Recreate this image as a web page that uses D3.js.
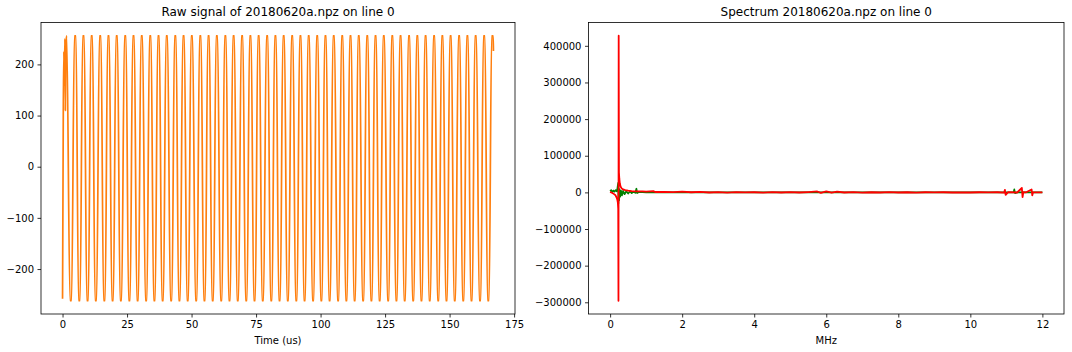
<!DOCTYPE html>
<html>
<head>
<meta charset="utf-8">
<script src="https://cdn.jsdelivr.net/npm/d3@7"></script>
<style>
  body { margin: 0; background: #fff; }
  text { font-family: "DejaVu Sans", sans-serif; fill: #000; }
</style>
</head>
<body>
<script>
// Size of the whole picture
const w = 1072;
const h = 352;

// Raw signal: troughs and peaks of the oscillation (time in us)
const troughTimes = [0, 3.2, 6.5, 9.7, 12.9, 16.2, 19.4, 22.6, 25.9, 29.1, 32.4, 35.6, 38.8, 42.1, 45.3, 48.5,
  51.8, 55.0, 58.2, 61.5, 64.7, 67.9, 71.2, 74.4, 77.6, 80.9, 84.1, 87.3, 90.6, 93.8, 97.1, 100.3,
  103.5, 106.8, 110.0, 113.2, 116.5, 119.7, 122.9, 126.2, 129.4, 132.6, 135.9, 139.1, 142.3, 145.6,
  148.8, 152.0, 155.3, 158.5, 161.8, 165.0];
const troughValue = -262;
const peakTimes = [4.9, 8.1, 11.3, 14.6, 17.8, 21.0, 24.3, 27.5, 30.7, 34.0, 37.2, 40.4, 43.7, 46.9, 50.1,
  53.4, 56.6, 59.8, 63.1, 66.3, 69.6, 72.8, 76.0, 79.3, 82.5, 85.7, 89.0, 92.2, 95.4, 98.7, 101.9,
  105.1, 108.4, 111.6, 114.8, 118.1, 121.3, 124.5, 127.8, 131.0, 134.3, 137.5, 140.7, 144.0, 147.2,
  150.4, 153.7, 156.9, 160.1, 163.4, 166.6];
const peakValue = 256;
// the signal is clipped: tops and bottoms stay flat for about this long (us)
const clipWidth = 0.6;
// the messy first rise and the last sample
const startTimes = [0.3, 0.5, 0.7, 0.9, 1.1, 1.3, 1.6];
const startValues = [120, 225, 160, 250, 110, 240, 256];
const endTimes = [167.0];
const endValues = [226];

// Spectrum: red trace
const redFreq = [0, 0.05, 0.1, 0.15, 0.18, 0.2, 0.215, 0.225, 0.232, 0.238, 0.245, 0.255, 0.27, 0.29, 0.32,
  0.36, 0.42, 0.5, 0.6, 0.75, 0.9, 1.0, 1.2, 1.25, 1.5, 1.75, 2.0, 2.25, 2.5, 2.75, 3.0, 3.25, 3.5,
  3.75, 4.0, 4.25, 4.5, 4.75, 5.0, 5.25, 5.5, 5.75, 5.85, 6.0, 6.15, 6.3, 6.5, 6.75, 7.0, 7.25, 7.5,
  7.75, 8.0, 8.25, 8.5, 8.75, 9.0, 9.25, 9.5, 9.75, 10.0, 10.25, 10.5, 10.75, 10.94, 10.96, 10.98,
  11.05, 11.3, 11.43, 11.45, 11.47, 11.55, 11.7, 11.72, 11.74, 11.8, 12.0];
const redValues = [1500, -1000, -4000, -8000, -14000, -20000, -28000, -45000, -295800, 427500, 55000, 38000,
  24000, 16000, 11000, 8000, 6000, 4500, 3500, 2500, 3000, 2000, 3500, 1000, 1500, 500, 1800, 300,
  1200, -300, 800, -500, 600, -200, 400, -600, 500, -300, 600, -400, 900, 2500, -1500, 3000, -1000,
  2000, -300, 800, -500, 300, -400, 500, -300, 400, -500, 300, -200, 400, -300, 200, -400, 300, -200,
  300, -500, 7000, -7000, 500, -300, 12000, -13000, 300, 200, 8000, -8000, 200, 100, 0];

// Spectrum: green trace
const greenFreq = [0, 0.03, 0.06, 0.09, 0.12, 0.15, 0.18, 0.2, 0.215, 0.225, 0.23, 0.24, 0.25, 0.26, 0.28,
  0.3, 0.33, 0.36, 0.4, 0.45, 0.5, 0.55, 0.6, 0.65, 0.7, 0.73, 0.75, 0.8, 1.0, 11.2, 11.22, 11.24, 11.3, 12.0];
const greenValues = [3000, 6000, 1000, 5000, 2000, 6000, 3000, 9000, 20000, 26000, -30000, 12000, -22000,
  8000, -12000, 5000, -8000, 4000, -5000, 3000, -3000, 2500, -2000, 1500, -1000, 10000, -2000, 1000,
  0, 0, 8000, -2000, 0, 0];

// Tick values
const rawXTicks = [0, 25, 50, 75, 100, 125, 150, 175];
const rawYTicks = [-200, -100, 0, 100, 200];
const specXTicks = [0, 2, 4, 6, 8, 10, 12];
const specYTicks = [-300000, -200000, -100000, 0, 100000, 200000, 300000, 400000];

// Build the raw signal point list (sorted by time). Each clipped top / bottom
// is a short flat piece around the read time.
const half = clipWidth / 2;
const rawPoints = [{ t: 0, v: -258 }]
  .concat(troughTimes.slice(1).flatMap(t => [{ t: t - half, v: troughValue }, { t: t + half, v: troughValue }]))
  .concat(peakTimes.flatMap(t => [{ t: t - half, v: peakValue }, { t: t + half, v: peakValue }]))
  .concat(startTimes.map((t, i) => ({ t: t, v: startValues[i] })))
  .concat(endTimes.map((t, i) => ({ t: t, v: endValues[i] })))
  .filter(d => d.t <= endTimes[0])
  .sort((a, b) => a.t - b.t);

const redPoints = redFreq.map((f, i) => ({ t: f, v: redValues[i] }));
const greenPoints = greenFreq.map((f, i) => ({ t: f, v: greenValues[i] }));

const svg = d3.select("body").append("svg")
  .attr("width", w)
  .attr("height", h);

// matplotlib-like 5% margin around the data
function padded(ext) {
  const m = (ext[1] - ext[0]) * 0.05;
  return [ext[0] - m, ext[1] + m];
}
const minus = d => d < 0 ? "\u2212" + Math.abs(d) : String(d);

function drawPanel(box, opts) {
  const g = svg.append("g");
  const x = d3.scaleLinear().domain(padded(opts.xExt)).range([box.left, box.right]);
  const y = d3.scaleLinear().domain(padded(opts.yExt)).range([box.bottom, box.top]);

  // x axis
  const xa = g.append("g")
    .attr("transform", `translate(0, ${box.bottom})`)
    .call(d3.axisBottom(x).tickValues(opts.xTicks).tickFormat(minus).tickSize(3.5).tickPadding(3.5));
  // y axis
  const ya = g.append("g")
    .attr("transform", `translate(${box.left}, 0)`)
    .call(d3.axisLeft(y).tickValues(opts.yTicks).tickFormat(minus).tickSize(3.5).tickPadding(3.5));
  [xa, ya].forEach(a => {
    a.select(".domain").remove();
    a.selectAll("line").attr("stroke", "#000").attr("stroke-width", 0.8);
    a.selectAll("text").style("font-size", "10px").style("font-family", "DejaVu Sans").attr("fill", "#000");
  });

  // lines
  const line = d3.line().x(d => x(d.t)).y(d => y(d.v));
  opts.series.forEach(s => {
    g.append("path")
      .datum(s.data)
      .attr("fill", "none")
      .attr("stroke", s.color)
      .attr("stroke-width", s.width || 1.5)
      .attr("stroke-linejoin", "round")
      .attr("d", line.curve(s.curve || d3.curveLinear));
  });

  // frame
  g.append("rect")
    .attr("x", box.left).attr("y", box.top)
    .attr("width", box.right - box.left).attr("height", box.bottom - box.top)
    .attr("fill", "none").attr("stroke", "#000").attr("stroke-width", 0.8);

  // title and x label
  g.append("text")
    .attr("x", (box.left + box.right) / 2).attr("y", box.top - 6.5)
    .attr("text-anchor", "middle").style("font-size", "12px")
    .text(opts.title);
  g.append("text")
    .attr("x", (box.left + box.right) / 2).attr("y", box.bottom + 30)
    .attr("text-anchor", "middle").style("font-size", "10px")
    .text(opts.xLabel);
}

drawPanel({ left: 41, right: 515, top: 22.5, bottom: 314 }, {
  xExt: [0, 167], yExt: [troughValue, peakValue],
  xTicks: rawXTicks, yTicks: rawYTicks,
  title: "Raw signal of 20180620a.npz on line 0", xLabel: "Time (us)",
  series: [{ data: rawPoints, color: "#ff7f0e", curve: d3.curveMonotoneX, width: 1.7 }]
});

drawPanel({ left: 588.5, right: 1064, top: 22.5, bottom: 314 }, {
  xExt: [0, 12], yExt: d3.extent(redValues),
  xTicks: specXTicks, yTicks: specYTicks,
  title: "Spectrum 20180620a.npz on line 0", xLabel: "MHz",
  series: [
    { data: greenPoints, color: "green", width: 1.7 },
    { data: redPoints, color: "red", width: 1.8 }
  ]
});
</script>
</body>
</html>
